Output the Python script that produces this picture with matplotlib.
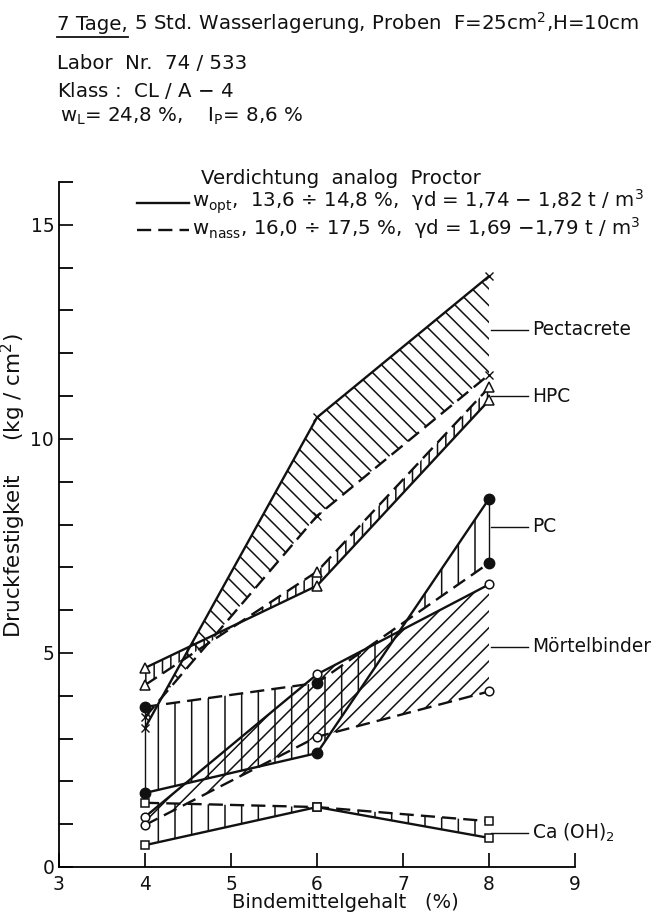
import matplotlib
matplotlib.use("Agg")
import matplotlib.pyplot as plt
from matplotlib.lines import Line2D
import numpy as np

plt.rcParams['font.family'] = ['DejaVu Sans']
plt.rcParams['mathtext.default'] = 'regular'
plt.rcParams['hatch.linewidth'] = 1.1

# ---------------- data ----------------
x = [4, 6, 8]
# Pectacrete (x markers)
pect_opt = [3.25, 10.5, 13.8]
pect_nass = [3.5, 8.2, 11.5]
# HPC (triangles)
hpc_opt = [4.65, 6.57, 10.9]
hpc_nass = [4.25, 6.9, 11.2]
# PC (filled circles)
pc_opt = [1.73, 2.66, 8.6]
pc_nass = [3.74, 4.3, 7.1]
# Mörtelbinder (open circles)
mb_opt = [1.17, 4.5, 6.6]
mb_nass = [0.98, 3.04, 4.1]
# Ca(OH)2 (squares)
ca_opt = [0.51, 1.4, 0.68]
ca_nass = [1.5, 1.4, 1.07]

materials = ["Pectacrete", "HPC", "PC", "Mörtelbinder", "Ca (OH)$_2$"]
label_y = [12.55, 11.0, 7.95, 5.15, 0.8]

xticks = [3, 4, 5, 6, 7, 8, 9]
yticks_major = [0, 5, 10, 15]

header = ["7 Tage,", " 5 Std. Wasserlagerung, Proben  F=25cm$^2$,H=10cm",
          "Labor  Nr.  74 / 533",
          "Klass :  CL / A $-$ 4",
          "w$_L$= 24,8 %,    I$_P$= 8,6 %"]
legend_title = "Verdichtung  analog  Proctor"
legend_labels = ["w$_{opt}$,  13,6 ÷ 14,8 %,  $\\gamma$d = 1,74 $-$ 1,82 t / m$^3$",
                 "w$_{nass}$, 16,0 ÷ 17,5 %,  $\\gamma$d = 1,69 $-$1,79 t / m$^3$"]
xlabel = "Bindemittelgehalt   (%)"
ylabel = "Druckfestigkeit     (kg / cm$^2$)"

# ---------------- figure ----------------
W, H = 668, 915
fig = plt.figure(figsize=(W / 100, H / 100), dpi=100)
fig.patch.set_facecolor("white")
ax = fig.add_axes([59 / W, 1 - 867 / H, (575 - 59) / W, (867 - 182) / H])
ax.set_xlim(3, 9)
ax.set_ylim(0, 16)
ax.patch.set_alpha(0)

FS = 13.4
FT = 14.2
LW = 1.7
DASH = (0, (6, 3))
K = "#111111"

def band(a, b, hatch):
    ax.fill_between(x, a, b, facecolor="none", edgecolor=K, linewidth=0,
                    hatch=hatch, zorder=1)

band(pect_opt, pect_nass, "\\\\")
band(hpc_opt, hpc_nass, "||")
band(pc_opt, pc_nass, "|")
band(mb_opt, mb_nass, "//")
band(ca_opt, ca_nass, "|")

for opt, nass in [(pect_opt, pect_nass), (hpc_opt, hpc_nass), (pc_opt, pc_nass),
                  (mb_opt, mb_nass), (ca_opt, ca_nass)]:
    ax.plot(x, opt, color=K, lw=LW, solid_capstyle="butt", zorder=3)
    ax.plot(x, nass, color=K, lw=LW, linestyle=DASH, zorder=3)

# vertical connections for PC at 4 and 8
ax.plot([x[0], x[0]], [pc_opt[0], pc_nass[0]], color=K, lw=1.0, zorder=2)
ax.plot([x[2], x[2]], [pc_opt[2], pc_nass[2]], color=K, lw=1.0, zorder=2)

# markers
mk = dict(linestyle="none", color=K, zorder=5, clip_on=False)
for arr in (pect_opt, pect_nass):
    ax.plot(x, arr, marker="x", ms=5.5, mew=1.0, **mk)
for arr in (hpc_opt, hpc_nass):
    ax.plot(x, arr, marker="^", ms=6.5, mfc="white", mew=1.1, **mk)
for arr in (pc_opt, pc_nass):
    ax.plot(x, arr, marker="o", ms=7.5, mfc=K, **mk)
for arr in (mb_opt, mb_nass):
    ax.plot(x, arr, marker="o", ms=6.2, mfc="white", mew=1.1, **mk)
for arr in (ca_opt, ca_nass):
    ax.plot(x, arr, marker="s", ms=5.5, mfc="white", mew=1.1, **mk)

# labels on the right with leader lines
for name, yy in zip(materials, label_y):
    ax.plot([8.02, 8.45], [yy, yy], color=K, lw=1.0, clip_on=False, zorder=4)
    ax.text(8.5, yy, name, fontsize=FS, va="center", ha="left", color=K)

# axes styling
for s in ["top", "right"]:
    ax.spines[s].set_visible(False)
ax.spines["left"].set_linewidth(1.3)
ax.spines["bottom"].set_linewidth(1.3)
ax.set_xticks(xticks)
ax.set_yticks(np.arange(0, 17, 1), minor=True)
ax.set_yticks(yticks_major)
ax.tick_params(axis="both", direction="in", length=10, width=1.3, labelsize=FS, colors=K)
ax.tick_params(axis="y", which="minor", direction="in", length=10, width=1.3)
ax.tick_params(axis="x", pad=6)
ax.set_xlabel(xlabel, fontsize=14, color=K)
ax.xaxis.set_label_coords(0.555, -0.038)
ax.set_ylabel(ylabel, fontsize=15.5, color=K)
ax.yaxis.set_label_coords(-0.06, 0.556)

def fy(py):
    return 1 - py / H

# legend (drawn by hand, as in the original)
fig.text(201 / W, fy(184), legend_title, fontsize=FT, va="baseline", color=K)
for i, (lab, ls) in enumerate(zip(legend_labels, ["-", DASH])):
    yc = 203 + 27 * i
    fig.add_artist(Line2D([137 / W, 189 / W], [fy(yc), fy(yc)], color=K, lw=LW,
                          linestyle=ls, transform=fig.transFigure))
    fig.text(192 / W, fy(yc + 5), lab, fontsize=FT, va="baseline", color=K)

# header
hx = 57 / W
t1 = fig.text(hx, fy(30), header[0], fontsize=FT, va="baseline", color=K)
fig.canvas.draw()
bb = t1.get_window_extent()
fig.text(bb.x1 / W, fy(30), header[1], fontsize=FT, va="baseline", color=K)
fig.add_artist(Line2D([bb.x0, bb.x1], [bb.y0 - 3, bb.y0 - 3], color=K, lw=1.3,
                      transform=None))
fig.text(hx, fy(69), header[2], fontsize=FT, va="baseline", color=K)
fig.text(hx, fy(97), header[3], fontsize=FT, va="baseline", color=K)
fig.text(hx + 3 / W, fy(122), header[4], fontsize=FT, va="baseline", color=K)

fig.savefig("out.png", dpi=100, facecolor="white")
